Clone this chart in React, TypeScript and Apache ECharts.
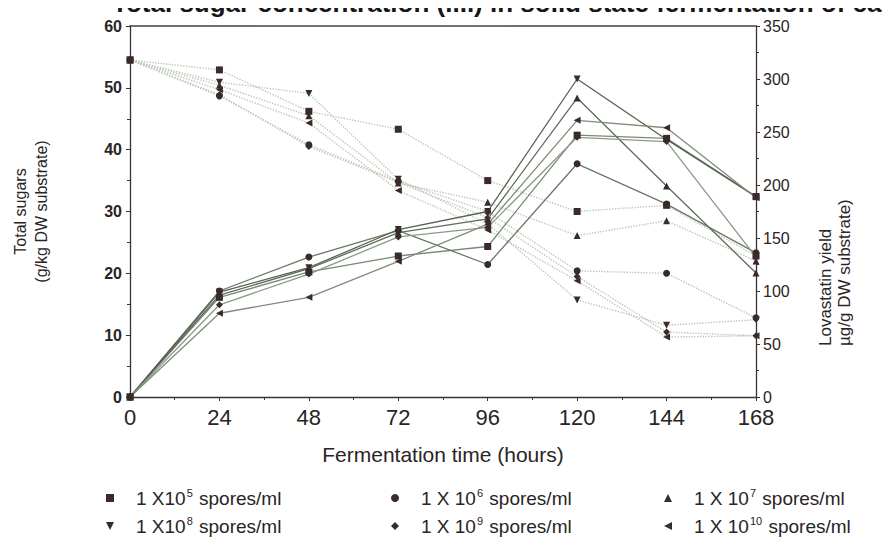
import React, { useEffect, useRef } from "react";
import * as echarts from "echarts";

const hours = [0, 24, 48, 72, 96, 120, 144, 168];
const xTicks = [0, 24, 48, 72, 96, 120, 144, 168];

const seriesNames = [
  "1 X10^5 spores/ml",
  "1 X 10^6 spores/ml",
  "1 X 10^7 spores/ml",
  "1 X10^8 spores/ml",
  "1 X 10^9 spores/ml",
  "1 X 10^10 spores/ml",
];

// Total sugars (g/kg DW substrate) — dotted lines, left axis
const sugar1e5 = [54.5, 52.9, 46.2, 43.3, 35.0, 30.0, 31.0, 22.8];
const sugar1e6 = [54.5, 48.7, 40.8, 34.9, 30.0, 20.4, 20.0, 12.8];
const sugar1e7 = [54.5, 50.4, 45.5, 34.6, 31.5, 26.1, 28.5, 22.0];
const sugar1e8 = [54.5, 50.9, 49.1, 35.2, 28.0, 15.7, 11.6, 12.5];
const sugar1e9 = [54.5, 48.9, 40.5, 34.7, 29.0, 19.5, 10.5, 9.9];
const sugar1e10 = [54.5, 49.7, 44.3, 33.4, 27.0, 18.8, 9.7, 9.9];

// Lovastatin yield (µg/g DW substrate) — solid lines, right axis
const lova1e5 = [0, 94, 118, 133, 142, 247, 244, 189];
const lova1e6 = [0, 100, 132, 157, 125, 220, 182, 136];
const lova1e7 = [0, 96, 121, 155, 168, 282, 199, 117];
const lova1e8 = [0, 99, 122, 158, 175, 300, 243, 189];
const lova1e9 = [0, 87, 116, 151, 160, 245, 241, 132];
const lova1e10 = [0, 79, 94, 128, 163, 261, 254, 188];

const sugarSets = [sugar1e5, sugar1e6, sugar1e7, sugar1e8, sugar1e9, sugar1e10];
const lovaSets = [lova1e5, lova1e6, lova1e7, lova1e8, lova1e9, lova1e10];

const DOWN_TRI = "path://M0,0L10,0L5,10Z";
const LEFT_TRI = "path://M10,0L10,10L0,5Z";
const symbols = ["rect", "circle", "triangle", DOWN_TRI, "diamond", LEFT_TRI];
const solidColors = ["#7b8a78", "#6a7767", "#5f6b5c", "#56624f", "#8c9a88", "#7f8d7b"];

const FONT = "'Liberation Sans', Arial, Helvetica, sans-serif";
const INK = "#2a2424";
const MARK = "#3a2b2b";

const legendPos = [
  { left: 106, top: 487 },
  { left: 391, top: 487 },
  { left: 664, top: 487 },
  { left: 106, top: 515 },
  { left: 391, top: 515 },
  { left: 664, top: 515 },
];

export default function App() {
  const ref = useRef<HTMLDivElement>(null);

  useEffect(() => {
    if (!ref.current) return;
    const chart = echarts.init(ref.current, undefined, { renderer: "svg" });

    const series: any[] = [];
    for (let i = 0; i < 6; i++) {
      series.push({
        type: "line",
        name: seriesNames[i],
        yAxisIndex: 0,
        data: sugarSets[i].map((v, j) => [hours[j], v]),
        symbol: symbols[i],
        symbolSize: 7,
        showAllSymbol: true,
        lineStyle: { type: "dotted", color: "#bcc7b8", width: 1.4 },
        itemStyle: { color: MARK },
        z: 3,
      });
    }
    for (let i = 0; i < 6; i++) {
      series.push({
        type: "line",
        name: seriesNames[i],
        yAxisIndex: 1,
        data: lovaSets[i].map((v, j) => [hours[j], v]),
        symbol: symbols[i],
        symbolSize: 7,
        showAllSymbol: true,
        lineStyle: { type: "solid", color: solidColors[i], width: 1.3 },
        itemStyle: { color: MARK },
        z: 4,
      });
    }

    const legends = seriesNames.map((name, i) => ({
      data: [{ name, icon: symbols[i] }],
      left: legendPos[i].left,
      top: legendPos[i].top,
      padding: 0,
      itemWidth: 8,
      itemHeight: 8,
      selectedMode: false,
      formatter: (n: string) => {
        const [pre, rest] = n.split("^");
        const sp = rest.indexOf(" ");
        const exp = rest.slice(0, sp);
        const tail = rest.slice(sp);
        return `{p|}{t|${pre}}{s|${exp}}{t|${tail}}`;
      },
      textStyle: {
        rich: {
          p: { width: 17 },
          t: { fontSize: 19, fontFamily: FONT, color: INK, lineHeight: 22 },
          s: { fontSize: 11, fontFamily: FONT, color: INK, verticalAlign: "top", lineHeight: 11, padding: [0, 1, 0, 1] },
        },
      },
    }));

    const option: any = {
      animation: false,
      backgroundColor: "#ffffff",
      grid: { left: 130, right: 139, top: 26, bottom: 151 },
      legend: legends,
      xAxis: [
        {
          type: "value",
          min: 0,
          max: 168,
          interval: 24,
          name: "Fermentation time (hours)",
          nameLocation: "middle",
          nameGap: 47,
          nameTextStyle: { fontSize: 21, fontFamily: FONT, color: INK },
          axisLine: { show: true, onZero: false, lineStyle: { color: "#3a3333", width: 1.3 } },
          axisTick: { show: true, length: 4, lineStyle: { color: "#3a3333" } },
          minorTick: { show: true, splitNumber: 2, length: 3, lineStyle: { color: "#3a3333" } },
          axisLabel: { fontSize: 22, fontFamily: FONT, color: INK, margin: 9, customValues: xTicks },
          splitLine: { show: false },
        },
        {
          type: "value",
          position: "top",
          min: 0,
          max: 168,
          axisLine: { show: true, onZero: false, lineStyle: { color: "#4a3f4a", width: 1.6 } },
          axisTick: { show: false },
          axisLabel: { show: false },
          splitLine: { show: false },
        },
      ],
      yAxis: [
        {
          type: "value",
          min: 0,
          max: 60,
          interval: 10,
          name: "Total sugars\n(g/kg DW substrate)",
          nameLocation: "middle",
          nameGap: 78,
          nameRotate: 90,
          nameTextStyle: { fontSize: 16, fontFamily: FONT, color: INK, lineHeight: 21 },
          axisLine: { show: true, onZero: false, lineStyle: { color: "#3a3333", width: 1.3 } },
          axisTick: { show: true, length: 4, lineStyle: { color: "#3a3333" } },
          minorTick: { show: true, splitNumber: 2, length: 3, lineStyle: { color: "#3a3333" } },
          axisLabel: { fontSize: 16, fontWeight: "bold", fontFamily: FONT, color: INK, margin: 8 },
          splitLine: { show: false },
        },
        {
          type: "value",
          min: 0,
          max: 350,
          interval: 50,
          position: "right",
          axisLine: { show: true, onZero: false, lineStyle: { color: "#3a3333", width: 1.3 } },
          axisTick: { show: true, length: 4, lineStyle: { color: "#3a3333" } },
          minorTick: { show: true, splitNumber: 2, length: 3, lineStyle: { color: "#3a3333" } },
          axisLabel: { fontSize: 16, fontFamily: FONT, color: INK, margin: 7, padding: [4, 0, 0, 0] },
          splitLine: { show: false },
        },
      ],
      graphic: [
        {
          type: "text",
          left: 112,
          top: -10,
          style: {
            text: "Total sugar concentration (....) in solid state fermentation of ca",
            font: `bold 26px ${FONT}`,
            lineHeight: 18,
            fill: "#1a1414",
          },
        },
        {
          type: "text",
          x: 816,
          y: 346,
          rotation: Math.PI / 2,
          style: {
            text: "Lovastatin yield\nµg/g DW substrate)",
            font: `17px ${FONT}`,
            fill: INK,
            align: "left",
            verticalAlign: "top",
            lineHeight: 19,
          },
        },
      ],
      series,
    };

    chart.setOption(option);
    return () => chart.dispose();
  }, []);

  return <div ref={ref} style={{ width: 895, height: 548, margin: -8 }} />;
}
